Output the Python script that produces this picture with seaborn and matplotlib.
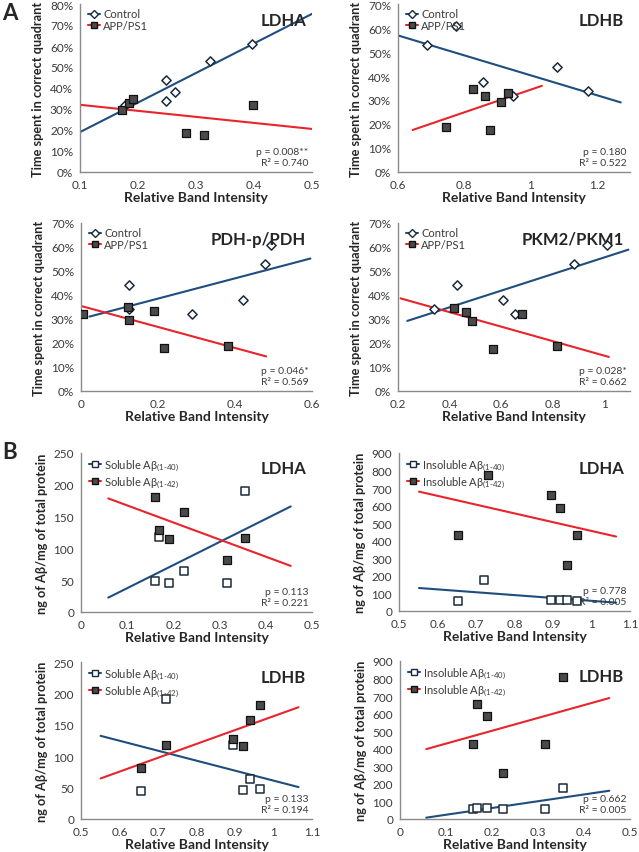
## for data
import numpy as np
import pandas as pd

## for plotting
import matplotlib
matplotlib.use("Agg")
import matplotlib.pyplot as plt
from matplotlib.lines import Line2D
from matplotlib.ticker import FuncFormatter, MultipleLocator
import seaborn as sns


###############################################################################
## data
###############################################################################

## A - time in correct quadrant (%) vs relative band intensity
ldha_ctrl_x = [0.177, 0.248, 0.248, 0.263, 0.324, 0.396]
ldha_ctrl_y = [32, 44, 34, 38, 53, 61]
ldha_app_x = [0.172, 0.185, 0.192, 0.283, 0.314, 0.399]
ldha_app_y = [29.3, 32.8, 34.9, 18.7, 17.4, 32]
ldha_ctrl_fit_x, ldha_ctrl_fit_y = [0.1, 0.5], [19, 75.3]
ldha_app_fit_x, ldha_app_fit_y = [0.1, 0.5], [32, 20.5]

ldhb_ctrl_x = [0.687, 0.776, 0.856, 0.948, 1.079, 1.172]
ldhb_ctrl_y = [53, 61, 37.5, 31.7, 43.8, 33.8]
ldhb_app_x = [0.826, 0.863, 0.745, 0.879, 0.910, 0.931]
ldhb_app_y = [34.5, 31.7, 18.6, 17.5, 29, 32.8]
ldhb_ctrl_fit_x, ldhb_ctrl_fit_y = [0.6, 1.272], [56.9, 29]
ldhb_app_fit_x, ldhb_app_fit_y = [0.644, 1.034], [17.5, 35.9]

pdh_ctrl_x = [0.125, 0.125, 0.288, 0.422, 0.479, 0.493]
pdh_ctrl_y = [44, 34.2, 32.1, 37.9, 53, 61]
pdh_app_x = [0.004, 0.121, 0.125, 0.190, 0.216, 0.382]
pdh_app_y = [32.1, 34.9, 29.6, 33.2, 17.8, 18.9]
pdh_ctrl_fit_x, pdh_ctrl_fit_y = [0.022, 0.596], [31, 55.2]
pdh_app_fit_x, pdh_app_fit_y = [0.003, 0.481], [35.3, 14.4]

pkm_ctrl_x = [0.340, 0.429, 0.608, 0.655, 0.881, 1.010]
pkm_ctrl_y = [34, 44, 37.8, 32, 53, 61]
pkm_app_x = [0.418, 0.462, 0.486, 0.568, 0.682, 0.818]
pkm_app_y = [34.7, 33, 29.2, 17.6, 32, 18.7]
pkm_ctrl_fit_x, pkm_ctrl_fit_y = [0.236, 1.094], [29.2, 58.9]
pkm_app_fit_x, pkm_app_fit_y = [0.21, 1.018], [38.6, 14.2]

## B - ng of Abeta / mg protein vs relative band intensity
b1_x = [0.160, 0.168, 0.191, 0.224, 0.316, 0.354]
b1_s40 = [48.3, 118.7, 46.2, 64.6, 46.2, 190.7]
b1_s42 = [180.7, 128.7, 115.5, 158, 82, 117]
b1_fit_x, b1_fit_s40, b1_fit_s42 = [0.059, 0.454], [22.6, 166], [178.6, 72.5]

b2_x = [0.654, 0.720, 0.896, 0.918, 0.937, 0.963]
b2_i40 = [55, 177, 63, 63, 61, 59]
b2_i42_x = [0.654, 0.730, 0.896, 0.918, 0.937, 0.963]
b2_i42 = [431, 772, 660, 589, 262, 431]
b2_fit_x, b2_fit_i40, b2_fit_i42 = [0.552, 1.064], [131, 47.5], [680, 424]

b3_x = [0.655, 0.721, 0.896, 0.920, 0.938, 0.964]
b3_s40 = [45, 191.7, 117.6, 46, 63.6, 47.7]
b3_s42 = [81, 117.6, 128, 115.5, 157.8, 181.7]
b3_fit_x, b3_fit_s40, b3_fit_s42 = [0.551, 1.065], [132.4, 50.8], [64.6, 178]

b4_x = [0.159, 0.167, 0.190, 0.223, 0.315, 0.354]
b4_i40 = [58.7, 62.5, 62.5, 58.7, 55, 176]
b4_i42 = [428, 657, 585, 261, 428, 807]
b4_fit_x, b4_fit_i40, b4_fit_i42 = [0.057, 0.455], [7.6, 161], [398, 689]


###############################################################################
## style
###############################################################################

sns.set_style("white")
plt.rcParams["font.family"] = ["Lato", "DejaVu Sans"]
plt.rcParams["mathtext.fontset"] = "custom"
plt.rcParams["mathtext.rm"] = "Lato"
plt.rcParams["mathtext.default"] = "regular"

BLUE = "#1f4e7e"
RED = "#e8242c"
DARK = "#1b2a3a"
GREY = "#4a4a4a"
AXC = "#8a8a8a"
TXT = "#3a3a3a"

W, H = 639, 853


def add_ax(fig, l, t, w, h):
    return fig.add_axes([l / W, 1 - (t + h) / H, w / W, h / H])


def draw_panel(ax, x1, y1, x2, y2, fx1, fy1, fx2, fy2, names, title, stats,
               xlim, xstep, ylim, ystep, ylabel, pct, m1):
    # trend lines
    sns.lineplot(x=fx1, y=fy1, ax=ax, color=BLUE, lw=1.5, zorder=2)
    sns.lineplot(x=fx2, y=fy2, ax=ax, color=RED, lw=1.5, zorder=2)
    # points
    sns.scatterplot(x=x1, y=y1, ax=ax, marker=m1, s=22 if m1 == "D" else 26,
                    color="white", edgecolor=DARK, linewidth=1.1, zorder=3)
    sns.scatterplot(x=x2, y=y2, ax=ax, marker="s", s=26,
                    color=GREY, edgecolor="#111111", linewidth=0.9, zorder=4)

    ax.set_xlim(*xlim)
    ax.set_ylim(*ylim)
    ax.xaxis.set_major_locator(MultipleLocator(xstep))
    ax.yaxis.set_major_locator(MultipleLocator(ystep))
    ax.xaxis.set_major_formatter(FuncFormatter(lambda v, p: f"{round(v, 3):g}"))
    if pct:
        ax.yaxis.set_major_formatter(FuncFormatter(lambda v, p: f"{v:.0f}%"))
    else:
        ax.yaxis.set_major_formatter(FuncFormatter(lambda v, p: f"{v:.0f}"))

    for s in ["top", "right"]:
        ax.spines[s].set_visible(False)
    for s in ["left", "bottom"]:
        ax.spines[s].set_color(AXC)
        ax.spines[s].set_linewidth(1.0)
    ax.tick_params(axis="both", direction="out", length=3, width=0.9,
                   color=AXC, labelsize=8.5, labelcolor=TXT, pad=2)
    ax.grid(False)

    ax.set_xlabel("Relative Band Intensity", fontsize=10, fontweight="bold",
                  labelpad=1)
    ax.set_ylabel(ylabel, fontsize=9.2, fontweight="bold", labelpad=4)

    ax.text(0.975, 0.955, title, transform=ax.transAxes, ha="right", va="top",
            fontsize=12, fontweight="bold")
    ax.text(0.985, 0.03, stats, transform=ax.transAxes, ha="right",
            va="bottom", fontsize=7.5, color=TXT, linespacing=1.3)

    handles = [
        Line2D([0], [0], color=BLUE, lw=1.5, marker=m1,
               markersize=4.5, markerfacecolor="white", markeredgecolor=DARK),
        Line2D([0], [0], color=RED, lw=1.5, marker="s",
               markersize=4.5, markerfacecolor=GREY, markeredgecolor="#111"),
    ]
    ax.legend(handles, names, loc="upper left", bbox_to_anchor=(0.0, 1.02),
              frameon=False, fontsize=8, handlelength=1.1,
              handletextpad=0.3, labelspacing=0.05, borderaxespad=0.3,
              labelcolor=TXT)


fig = plt.figure(figsize=(W / 100, H / 100), dpi=100)
fig.patch.set_facecolor("white")

ylab_a = "Time spent in correct quadrant"
ylab_b = "ng of A\u03b2/mg of total protein"
names_a = ["Control", "APP/PS1"]
names_sol = ["Soluble A\u03b2$_{(1\u201040)}$", "Soluble A\u03b2$_{(1\u201042)}$"]
names_ins = ["Insoluble A\u03b2$_{(1\u201040)}$", "Insoluble A\u03b2$_{(1\u201042)}$"]

ax = add_ax(fig, 80, 5, 232, 168)
draw_panel(ax, ldha_ctrl_x, ldha_ctrl_y, ldha_app_x, ldha_app_y,
           ldha_ctrl_fit_x, ldha_ctrl_fit_y, ldha_app_fit_x, ldha_app_fit_y,
           names_a, "LDHA", "p = 0.008**\nR\u00b2 = 0.740",
           (0.1, 0.5), 0.1, (0, 80), 10, ylab_a, True, "D")

ax = add_ax(fig, 398, 5, 232, 168)
draw_panel(ax, ldhb_ctrl_x, ldhb_ctrl_y, ldhb_app_x, ldhb_app_y,
           ldhb_ctrl_fit_x, ldhb_ctrl_fit_y, ldhb_app_fit_x, ldhb_app_fit_y,
           names_a, "LDHB", "p = 0.180\nR\u00b2 = 0.522",
           (0.6, 1.3), 0.2, (0, 70), 10, ylab_a, True, "D")

ax = add_ax(fig, 81, 224, 231, 168)
draw_panel(ax, pdh_ctrl_x, pdh_ctrl_y, pdh_app_x, pdh_app_y,
           pdh_ctrl_fit_x, pdh_ctrl_fit_y, pdh_app_fit_x, pdh_app_fit_y,
           names_a, "PDH-p/PDH", "p = 0.046*\nR\u00b2 = 0.569",
           (0, 0.6), 0.2, (0, 70), 10, ylab_a, True, "D")

ax = add_ax(fig, 398, 224, 232, 168)
draw_panel(ax, pkm_ctrl_x, pkm_ctrl_y, pkm_app_x, pkm_app_y,
           pkm_ctrl_fit_x, pkm_ctrl_fit_y, pkm_app_fit_x, pkm_app_fit_y,
           names_a, "PKM2/PKM1", "p = 0.028*\nR\u00b2 = 0.662",
           (0.2, 1.1), 0.2, (0, 70), 10, ylab_a, True, "D")

ax = add_ax(fig, 81, 454, 231, 159)
draw_panel(ax, b1_x, b1_s40, b1_x, b1_s42,
           b1_fit_x, b1_fit_s40, b1_fit_x, b1_fit_s42,
           names_sol, "LDHA", "p = 0.113\nR\u00b2 = 0.221",
           (0, 0.5), 0.1, (0, 250), 50, ylab_b, False, "s")

ax = add_ax(fig, 399, 454, 231, 158)
draw_panel(ax, b2_x, b2_i40, b2_i42_x, b2_i42,
           b2_fit_x, b2_fit_i40, b2_fit_x, b2_fit_i42,
           names_ins, "LDHA", "p = 0.778\nR\u00b2 = 0.005",
           (0.5, 1.1), 0.1, (0, 900), 100, ylab_b, False, "s")

ax = add_ax(fig, 81, 663, 231, 157)
draw_panel(ax, b3_x, b3_s40, b3_x, b3_s42,
           b3_fit_x, b3_fit_s40, b3_fit_x, b3_fit_s42,
           names_sol, "LDHB", "p = 0.133\nR\u00b2 = 0.194",
           (0.5, 1.1), 0.1, (0, 250), 50, ylab_b, False, "s")

ax = add_ax(fig, 400, 662, 230, 158)
draw_panel(ax, b4_x, b4_i40, b4_x, b4_i42,
           b4_fit_x, b4_fit_i40, b4_fit_x, b4_fit_i42,
           names_ins, "LDHB", "p = 0.662\nR\u00b2 = 0.005",
           (0, 0.5), 0.1, (0, 900), 100, ylab_b, False, "s")

fig.text(2 / W, 1 - 14 / H, "A", fontsize=16, fontweight="bold",
         ha="left", va="center")
fig.text(2 / W, 1 - 453 / H, "B", fontsize=16, fontweight="bold",
         ha="left", va="center")

fig.savefig("out.png", dpi=100, facecolor="white")
